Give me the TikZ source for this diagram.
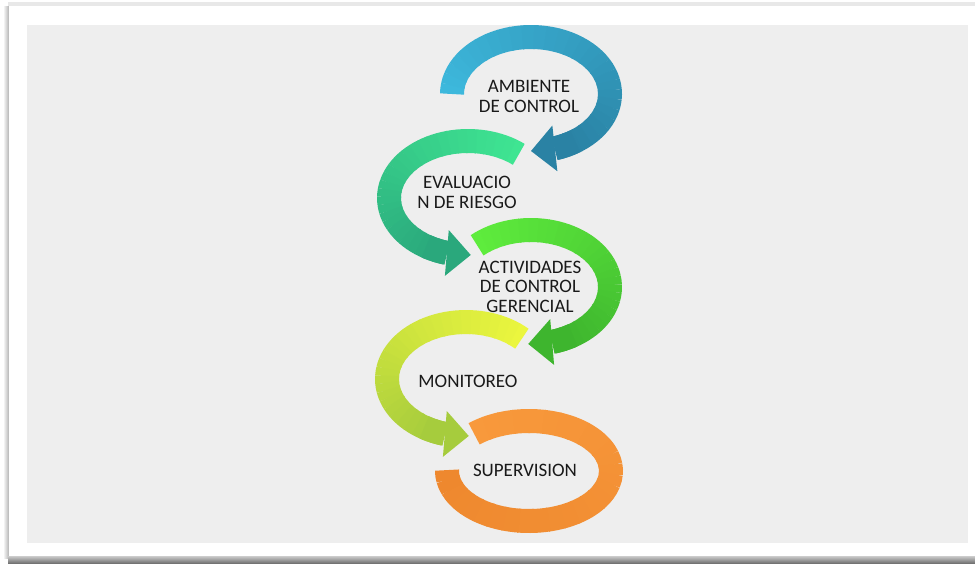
\documentclass[tikz,border=0pt]{standalone}
\usepackage{fontspec}
\setmainfont{Carlito}
\usetikzlibrary{arrows.meta,bending}

\definecolor{panelgray}{HTML}{EEEEEE}
\definecolor{blueA}{HTML}{3DB8DC}
\definecolor{blueB}{HTML}{2A82A4}
\definecolor{mintA}{HTML}{3FE592}
\definecolor{mintB}{HTML}{2AA87C}
\definecolor{greenA}{HTML}{5EEC3D}
\definecolor{greenB}{HTML}{3EB52E}
\definecolor{limeA}{HTML}{EBF63E}
\definecolor{limeB}{HTML}{A6CC3D}
\definecolor{orangeA}{HTML}{F8993C}
\definecolor{orangeB}{HTML}{EE882E}

\begin{document}
\begin{tikzpicture}[x=1pt,y=-1pt,
  band/.style={line width=24pt},
  head/.style={-{Triangle[width=46pt,length=24pt,line width=0pt,flex]}},
  label/.style={font=\fontsize{19}{19.5}\selectfont, text=black!90, align=center, inner sep=0pt}]

\useasboundingbox (0,0) rectangle (975,563);

% frame with its shadow
\fill[white] (0,0) rectangle (975,563);
\fill[black!9] (8,2) rectangle (975,6);
\shade[left color=white, right color=black!30] (3,6) rectangle (9,558);
\shade[top color=black!20, bottom color=black!55] (8,556) rectangle (975,563);
\fill[white] (9,6) rectangle (975,556);
\fill[panelgray] (27,25) rectangle (968,543);

% rings, last one first so every head lies over the next tail
\foreach \cx/\cy/\rx/\ry/\ta/\tb/\ca/\cb/\hd in {
    529/471/82/50/228/540/orangeA/orangeB/0,
    466/379/79/57/-45/-272/limeA/limeB/1,
    531/287/79/57/227/452/greenA/greenB/1,
    468/198/79/57/-50/-272/mintA/mintB/1,
    531/94/79/57/180/450/blueA/blueB/1} {
  \pgfmathsetmacro{\sg}{\tb>\ta ? 1 : -1}
  \pgfmathsetmacro{\te}{\tb-\hd*\sg*19}
  \pgfmathsetmacro{\dt}{(\te-\ta)/30}
  \foreach \i in {0,...,29} {
    \pgfmathsetmacro{\s}{\ta+\i*\dt}
    \pgfmathtruncatemacro{\pc}{100-\i*100/29}
    \draw[band, \ca!\pc!\cb] ({\cx+\rx*cos(\s)},{\cy+\ry*sin(\s)})
      arc[start angle=\s, delta angle=1.1*\dt, x radius=\rx, y radius=\ry];
  }
  \ifnum\hd=1
    \pgfmathsetmacro{\s}{\tb-\sg*34}
    \draw[band, head, \cb] ({\cx+\rx*cos(\s)},{\cy+\ry*sin(\s)})
      arc[start angle=\s, end angle=\tb, x radius=\rx, y radius=\ry];
  \fi
}

% labels
\node[label] (amb) at (529,96.5) {AMBIENTE\\DE CONTROL};
\node[label] (eva) at (467,192.5) {EVALUACIO\\N DE RIESGO};
\node[label] (act) at (530,286.5) {ACTIVIDADES\\DE CONTROL\\GERENCIAL};
\node[label] (mon) at (468,381) {MONITOREO};
\node[label] (sup) at (525,470) {SUPERVISION};
\end{tikzpicture}
\end{document}
